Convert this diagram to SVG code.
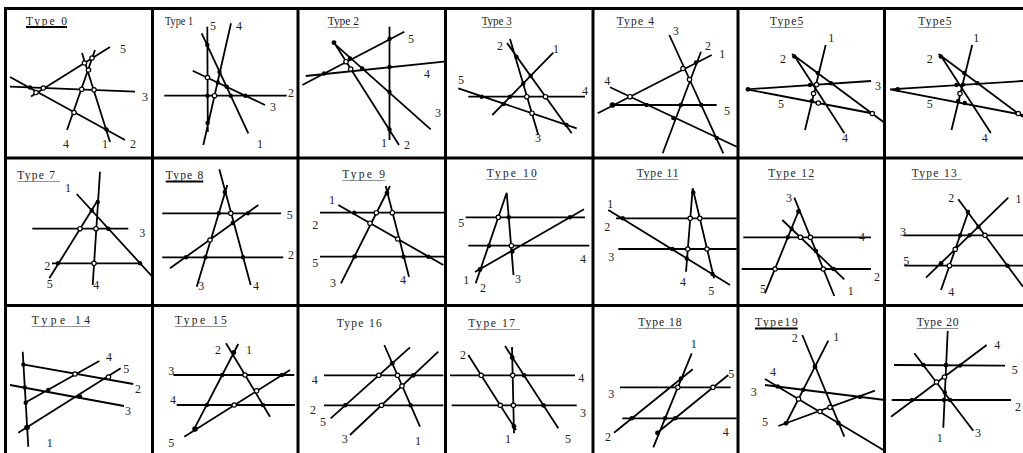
<svg xmlns="http://www.w3.org/2000/svg" width="1023" height="453" viewBox="0 0 1023 453">
<style>
.b{stroke:#000;stroke-width:3;fill:none}
.l{stroke:#000;stroke-width:1.8;fill:none}
.f{fill:#000}
.o{fill:#fff;stroke:#000;stroke-width:1.2}
.t{font-family:"Liberation Serif","Times New Roman",serif;font-size:11.5px;fill:#222}
.n{font-family:"Liberation Serif","Times New Roman",serif;font-size:12px;fill:#222}
.u{stroke:#000;stroke-width:2}
.v{stroke:#777;stroke-width:0.8}
</style>
<rect width="1023" height="453" fill="#fff"/>
<g id="grid">
<path class="b" d="M4,8.5H1023M4,158H1023M4,305.5H1023M5.5,7V453M152.5,7V453M298,7V453M445.5,7V453M593,7V453M738,7V453M884.5,7V453"/>
</g>

<g id="type0">
<text class="t" x="26" y="24.5" textLength="41" lengthAdjust="spacing">Type 0</text>
<line class="u" x1="26" y1="27" x2="67" y2="27"/>
<g class="connectors"><path class="l" d="M10,86.7L135,91.7M10,77L125,140M31,96.5L110,47M67,130L95,50M82,53L110,142"/></g>
<circle class="f" cx="30" cy="87.5" r="2.2"/><circle class="o" cx="43.3" cy="88" r="2.2"/><circle class="o" cx="36" cy="92.5" r="2.2"/><circle class="o" cx="84.5" cy="63" r="2.2"/><circle class="o" cx="92" cy="58" r="2.2"/><circle class="o" cx="88.5" cy="70" r="2.2"/><circle class="o" cx="81.7" cy="89.3" r="2.2"/><circle class="o" cx="94" cy="89.8" r="2.2"/><circle class="o" cx="74" cy="112.5" r="2.2"/><circle class="f" cx="106.5" cy="129.5" r="2.2"/>
<text class="n" x="120" y="53">5</text><text class="n" x="142" y="101">3</text><text class="n" x="63" y="148">4</text><text class="n" x="102" y="148">1</text><text class="n" x="130" y="148">2</text>
</g>

<g id="type1">
<text class="t" x="165" y="25" textLength="28" lengthAdjust="spacingAndGlyphs">Type 1</text>
<g class="connectors"><path class="l" d="M207.3,26.7L207.8,132M231,23.3L203.3,145M201.7,33.3L248.3,133.3M192.7,70.7L265,105M164.3,95.7L286.7,95.7"/></g>
<circle class="f" cx="207.3" cy="45" r="2.2"/><circle class="o" cx="207.5" cy="77.5" r="2.2"/><circle class="f" cx="219.5" cy="72" r="2.2"/><circle class="f" cx="217.8" cy="82.5" r="2.2"/><circle class="f" cx="226.7" cy="86.8" r="2.2"/><circle class="f" cx="207.5" cy="95.7" r="2.2"/><circle class="o" cx="214.5" cy="95.7" r="2.2"/><circle class="f" cx="230.8" cy="95.7" r="2.2"/><circle class="f" cx="245.3" cy="95.7" r="2.2"/><circle class="f" cx="207.6" cy="123" r="2.2"/>
<text class="n" x="210" y="30">5</text><text class="n" x="236" y="30">4</text><text class="n" x="257" y="148">1</text><text class="n" x="270" y="111">3</text><text class="n" x="288" y="97">2</text>
</g>

<g id="type2">
<text class="t" x="327.7" y="25" textLength="31.3" lengthAdjust="spacingAndGlyphs">Type 2</text>
<line class="v" x1="327.7" y1="27.5" x2="359" y2="27.5"/>
<g class="connectors"><path class="l" d="M389.5,26.7L389.5,140M335,44L399,145M334,43.3L430.7,129.3M302.3,85L404.3,31.7M305.7,76L444,61.7"/></g>
<circle class="f" cx="334" cy="42.7" r="2.4"/><circle class="o" cx="346" cy="61.7" r="2.2"/><circle class="f" cx="350" cy="58.5" r="2.2"/><circle class="f" cx="324" cy="73.5" r="2.2"/><circle class="o" cx="350.7" cy="69" r="2.2"/><circle class="f" cx="362.3" cy="68.5" r="2.2"/><circle class="f" cx="389.5" cy="39" r="2.2"/><circle class="f" cx="389.5" cy="67" r="2.2"/><circle class="f" cx="389.5" cy="92" r="2.2"/><circle class="f" cx="389.5" cy="129.5" r="2.2"/>
<text class="n" x="408" y="43">5</text><text class="n" x="424" y="78">4</text><text class="n" x="435" y="117">3</text><text class="n" x="381" y="146.7">1</text><text class="n" x="404" y="149">2</text>
</g>

<g id="type3">
<text class="t" x="481.7" y="25" textLength="30" lengthAdjust="spacingAndGlyphs">Type 3</text>
<line class="v" x1="481.7" y1="27.5" x2="511.7" y2="27.5"/>
<g class="connectors"><path class="l" d="M468.3,96.7L585,96.7M458.3,88.3L576.7,128.3M553.3,52.7L492.3,115M507,43L571.7,133.3M510,39L538.3,135"/></g>
<circle class="f" cx="481.7" cy="96.7" r="2.2"/><circle class="f" cx="510" cy="96.7" r="2.2"/><circle class="o" cx="526.8" cy="96.7" r="2.2"/><circle class="o" cx="545.5" cy="96.7" r="2.2"/><circle class="f" cx="516.5" cy="57" r="2.2"/><circle class="f" cx="530.7" cy="76" r="2.2"/><circle class="f" cx="523.3" cy="83.5" r="2.2"/><circle class="o" cx="532" cy="113.2" r="2.2"/><circle class="f" cx="503.5" cy="104" r="2.2"/><circle class="f" cx="566.5" cy="125" r="2.2"/>
<text class="n" x="497" y="49.7">2</text><text class="n" x="458" y="84">5</text><text class="n" x="553" y="53">1</text><text class="n" x="582" y="95">4</text><text class="n" x="535" y="141.7">3</text>
</g>

<g id="type4">
<text class="t" x="616.7" y="25" textLength="37.3" lengthAdjust="spacing">Type 4</text>
<line class="v" x1="616.7" y1="27.5" x2="654" y2="27.5"/>
<g class="connectors"><path class="l" d="M669.3,35L723.3,153.3M701,51.7L662.7,153.3M597.7,113.3L711.7,55M610,87.3L736.7,146.7M611.7,105L716.7,105"/></g>
<circle class="o" cx="683" cy="68.5" r="2.2"/><circle class="f" cx="696" cy="62.5" r="2.2"/><circle class="o" cx="689.5" cy="79.5" r="2.2"/><circle class="o" cx="630" cy="96.7" r="2.2"/><circle class="f" cx="612.5" cy="105" r="2.8"/><circle class="f" cx="646.7" cy="105" r="2.2"/><circle class="f" cx="680.8" cy="105" r="2.2"/><circle class="f" cx="701.3" cy="105" r="2.2"/><circle class="f" cx="673.3" cy="118" r="2.2"/><circle class="f" cx="716.7" cy="138" r="2.2"/>
<text class="n" x="672.7" y="35">3</text><text class="n" x="705" y="50">2</text><text class="n" x="719.3" y="58">1</text><text class="n" x="604.3" y="85">4</text><text class="n" x="724" y="115">5</text>
</g>

<g id="type5a">
<text class="t" x="770" y="25" textLength="33.3" lengthAdjust="spacing">Type5</text>
<line class="v" x1="770" y1="27.5" x2="803.3" y2="27.5"/>
<g class="connectors"><path class="l" d="M825.7,45L805,130M792,54L883.5,122M794.5,56L844.3,133M746.7,89.3L871,81M746.7,89.3L873,113.5"/></g>
<circle class="f" cx="748" cy="89.3" r="2.4"/><circle class="f" cx="794.3" cy="56.5" r="2.2"/><circle class="f" cx="817.7" cy="73" r="2.2"/><circle class="f" cx="810" cy="85" r="2.2"/><circle class="o" cx="816.5" cy="84.6" r="2.2"/><circle class="f" cx="831" cy="83.3" r="2.2"/><circle class="o" cx="813.5" cy="93.5" r="2.2"/><circle class="f" cx="811.7" cy="101" r="2.2"/><circle class="o" cx="818.3" cy="103" r="2.2"/><circle class="o" cx="872.3" cy="113.5" r="2.2"/>
<text class="n" x="828.3" y="41.7">1</text><text class="n" x="780" y="63.3">2</text><text class="n" x="875" y="90">3</text><text class="n" x="778" y="108">5</text><text class="n" x="842" y="141.7">4</text>
</g>

<g id="type5b">
<text class="t" x="918.3" y="25" textLength="33.3" lengthAdjust="spacing">Type5</text>
<line class="v" x1="918.3" y1="27.5" x2="951.6" y2="27.5"/>
<g class="connectors"><path class="l" d="M972.2,45L951.5,130M938.5,54L1023,117M941,56L990.8,133M890,89.3L1023,81M890,89.3L1023,115"/></g>
<circle class="f" cx="897.7" cy="89.3" r="2.4"/><circle class="f" cx="940.8" cy="56.5" r="2.2"/><circle class="f" cx="964.2" cy="73" r="2.2"/><circle class="f" cx="956.5" cy="85" r="2.2"/><circle class="f" cx="963" cy="84.6" r="2.2"/><circle class="f" cx="977.5" cy="83.3" r="2.2"/><circle class="o" cx="960" cy="93.5" r="2.2"/><circle class="f" cx="958.2" cy="101" r="2.2"/><circle class="f" cx="964.8" cy="103" r="2.2"/><circle class="o" cx="1018.3" cy="113.5" r="2.2"/>
<text class="n" x="973.3" y="41.7">1</text><text class="n" x="926.7" y="63.3">2</text><text class="n" x="926.7" y="108">5</text><text class="n" x="981.7" y="141.7">4</text>
</g>

<g id="type7">
<text class="t" x="17.3" y="179" textLength="37.7" lengthAdjust="spacing">Type 7</text>
<line class="v" x1="17.3" y1="181.5" x2="60" y2="181.5"/>
<g class="connectors"><path class="l" d="M100,171.7L92.7,285M76.7,194L151.7,276M32.3,228.7L128.3,228.7M52,263.3L142,263.3M49.3,278.3L98,200"/></g>
<circle class="f" cx="97.8" cy="202" r="2.2"/><circle class="f" cx="91.7" cy="210.5" r="2.2"/><circle class="o" cx="80" cy="228.7" r="2.2"/><circle class="o" cx="96" cy="228.7" r="2.2"/><circle class="f" cx="108.3" cy="228.7" r="2.2"/><circle class="f" cx="58" cy="263.3" r="2.2"/><circle class="o" cx="94" cy="263.3" r="2.2"/><circle class="f" cx="140" cy="263.3" r="2.2"/>
<text class="n" x="65" y="191.7">1</text><text class="n" x="139.3" y="236.7">3</text><text class="n" x="44.3" y="270">2</text><text class="n" x="46.7" y="288">5</text><text class="n" x="93.3" y="289">4</text>
</g>

<g id="type8">
<text class="t" x="165.7" y="179" textLength="37.6" lengthAdjust="spacing">Type 8</text>
<line class="u" x1="165.7" y1="181.5" x2="203.3" y2="181.5"/>
<g class="connectors"><path class="l" d="M162.3,213.3L281,213.3M162.3,257.3L283.3,257.3M196.7,286.7L227.3,185M219.3,169.3L250.7,285M170,268.3L258.3,205"/></g>
<circle class="f" cx="224.8" cy="192" r="2.2"/><circle class="f" cx="218.8" cy="213.3" r="2.2"/><circle class="o" cx="230.8" cy="213.3" r="2.2"/><circle class="f" cx="248" cy="213.3" r="2.2"/><circle class="f" cx="232.7" cy="223" r="2.2"/><circle class="o" cx="210" cy="240" r="2.2"/><circle class="f" cx="186" cy="257.3" r="2.2"/><circle class="f" cx="205.5" cy="257.3" r="2.2"/><circle class="f" cx="243" cy="257.3" r="2.2"/>
<text class="n" x="198.3" y="290">3</text><text class="n" x="253" y="290">4</text><text class="n" x="286.7" y="219">5</text><text class="n" x="288" y="259">2</text>
</g>

<g id="type9">
<text class="t" x="342.3" y="178" textLength="42.7" lengthAdjust="spacing">Type 9</text>
<line class="v" x1="342.3" y1="180.5" x2="385" y2="180.5"/>
<g class="connectors"><path class="l" d="M320,212.7L444,212.7M320,256.7L444,256.7M338.3,205L443.3,265M341,283.3L390,186M385.7,186L409,276.7"/></g>
<circle class="f" cx="387" cy="193" r="2.4"/><circle class="f" cx="354.3" cy="212.7" r="2.2"/><circle class="o" cx="376.3" cy="212.7" r="2.2"/><circle class="o" cx="392.3" cy="212.7" r="2.2"/><circle class="o" cx="370" cy="223.2" r="2.2"/><circle class="o" cx="397.7" cy="239" r="2.2"/><circle class="f" cx="354.5" cy="256.7" r="2.4"/><circle class="f" cx="403.5" cy="256.7" r="2.2"/><circle class="f" cx="428.5" cy="256.7" r="2.2"/>
<text class="n" x="329" y="204">1</text><text class="n" x="312.3" y="229">2</text><text class="n" x="312.3" y="267">5</text><text class="n" x="330" y="286.7">3</text><text class="n" x="400" y="284">4</text>
</g>

<g id="type10">
<text class="t" x="486.7" y="177" textLength="50" lengthAdjust="spacing">Type 10</text>
<line class="v" x1="486.7" y1="179.5" x2="536.7" y2="179.5"/>
<g class="connectors"><path class="l" d="M465.7,217.3L585,217.3M468.3,245.7L589.3,245.7M506.7,192.7L475.7,283.3M506.7,192.7L513.5,275M475,272L584,209.3"/></g>
<circle class="o" cx="498.3" cy="217.3" r="2.2"/><circle class="f" cx="508.7" cy="217.3" r="2.2"/><circle class="f" cx="489" cy="245.7" r="2.2"/><circle class="f" cx="480" cy="269.5" r="2.4"/><circle class="o" cx="511.4" cy="245.7" r="2.2"/><circle class="f" cx="512.2" cy="251.5" r="2.4"/><circle class="f" cx="570" cy="217.3" r="2.2"/>
<text class="n" x="458.3" y="227">5</text><text class="n" x="463.3" y="284">1</text><text class="n" x="480" y="292">2</text><text class="n" x="515" y="283">3</text><text class="n" x="580" y="263">4</text>
</g>

<g id="type11">
<text class="t" x="636.7" y="177" textLength="41.7" lengthAdjust="spacing">Type 11</text>
<line class="v" x1="636.7" y1="179.5" x2="678.4" y2="179.5"/>
<g class="connectors"><path class="l" d="M616,218.3L736.7,218.3M618.3,249L736.7,249M608.3,210L730,285M686,271.7L692.7,188.3M692.7,188.3L714,278.3"/></g>
<circle class="f" cx="693.3" cy="192.5" r="2.2"/><circle class="o" cx="690.2" cy="218.3" r="2.2"/><circle class="o" cx="699.8" cy="218.3" r="2.2"/><circle class="f" cx="622.7" cy="218.3" r="2.2"/><circle class="f" cx="672.3" cy="249" r="2.2"/><circle class="o" cx="687.8" cy="249" r="2.2"/><circle class="o" cx="707" cy="249" r="2.2"/><circle class="f" cx="686.8" cy="258.5" r="2.2"/><circle class="f" cx="712.5" cy="274" r="2.2"/>
<text class="n" x="607.3" y="208">1</text><text class="n" x="604.3" y="231">2</text><text class="n" x="608.3" y="261">3</text><text class="n" x="680" y="286">4</text><text class="n" x="708.3" y="295">5</text>
</g>

<g id="type12">
<text class="t" x="768.3" y="177" textLength="46" lengthAdjust="spacing">Type 12</text>
<line class="v" x1="768.3" y1="179.5" x2="814.3" y2="179.5"/>
<g class="connectors"><path class="l" d="M743.3,237.3L871,237.3M741.7,269L871,269M794.3,197.7L834.3,296M765,293.3L799,210M782.3,220L844.3,279.3"/></g>
<circle class="f" cx="798.5" cy="211.5" r="2.4"/><circle class="f" cx="791.7" cy="229" r="2.2"/><circle class="f" cx="787.8" cy="237.3" r="2.2"/><circle class="o" cx="800.4" cy="237.3" r="2.2"/><circle class="o" cx="810.4" cy="237.3" r="2.2"/><circle class="f" cx="816" cy="251" r="2.2"/><circle class="o" cx="775" cy="269" r="2.2"/><circle class="o" cx="823.3" cy="269" r="2.2"/><circle class="f" cx="833.6" cy="269" r="2.2"/>
<text class="n" x="786" y="202">3</text><text class="n" x="859" y="241">4</text><text class="n" x="874" y="281">2</text><text class="n" x="847.7" y="295">1</text><text class="n" x="760" y="293">5</text>
</g>

<g id="type13">
<text class="t" x="911.7" y="177" textLength="45" lengthAdjust="spacing">Type 13</text>
<line class="v" x1="911.7" y1="179.5" x2="961.7" y2="179.5"/>
<g class="connectors"><path class="l" d="M903.3,235.3L1023,235.3M904.3,265.7L1023,265.7M958.3,199.3L1023,286.7M1008.3,197.7L926,277.7M941,290L969,210"/></g>
<circle class="f" cx="967.8" cy="212" r="2.2"/><circle class="f" cx="978.5" cy="226.8" r="2.2"/><circle class="f" cx="960.1" cy="235.3" r="2.2"/><circle class="f" cx="969.6" cy="235.3" r="2.2"/><circle class="o" cx="985" cy="235.3" r="2.2"/><circle class="o" cx="955.2" cy="249.3" r="2.2"/><circle class="f" cx="941" cy="263.5" r="2.4"/><circle class="o" cx="949.5" cy="265.7" r="2.2"/><circle class="f" cx="1007.5" cy="265.7" r="2.2"/>
<text class="n" x="948.3" y="201.7">2</text><text class="n" x="1015.5" y="203">1</text><text class="n" x="900" y="236">3</text><text class="n" x="903.3" y="265">5</text><text class="n" x="948.3" y="296">4</text>
</g>

<g id="type14">
<text class="t" x="31.7" y="324" textLength="58.3" lengthAdjust="spacing">Type 14</text>
<line class="v" x1="31.7" y1="326.5" x2="90" y2="326.5"/>
<g class="connectors"><path class="l" d="M22.7,351.7L28.3,446.7M22.7,364.3L133.3,384M10,385L124,406M25,402.7L99.3,361M18.3,432.7L120.7,368.3"/></g>
<circle class="f" cx="23.4" cy="364.5" r="2.2"/><circle class="f" cx="24.8" cy="387.5" r="2.2"/><circle class="f" cx="25.7" cy="402.7" r="2.2"/><circle class="f" cx="27" cy="427.5" r="2.8"/><circle class="f" cx="48.3" cy="390" r="2.2"/><circle class="o" cx="75" cy="374" r="2.2"/><circle class="f" cx="80" cy="396.5" r="2.2"/><circle class="o" cx="108.5" cy="377" r="2.2"/>
<text class="n" x="106" y="361">4</text><text class="n" x="123.3" y="372.7">5</text><text class="n" x="135" y="393">2</text><text class="n" x="125" y="415">3</text><text class="n" x="46.7" y="446.7">1</text>
</g>

<g id="type15">
<text class="t" x="175" y="324" textLength="51.7" lengthAdjust="spacing">Type 15</text>
<line class="v" x1="175" y1="326.5" x2="226.7" y2="326.5"/>
<g class="connectors"><path class="l" d="M173.3,375L294.3,375M176.7,405L295,405M226,343.3L270,416.7M238.3,344L194,429.3M184.3,436.7L290,370"/></g>
<circle class="f" cx="233.8" cy="352.5" r="2.4"/><circle class="f" cx="222.2" cy="375" r="2.2"/><circle class="o" cx="245" cy="375" r="2.2"/><circle class="f" cx="207" cy="405" r="2.2"/><circle class="o" cx="234.2" cy="405" r="2.2"/><circle class="f" cx="195" cy="429" r="2.8"/><circle class="o" cx="256.6" cy="390.8" r="2.2"/><circle class="f" cx="262.8" cy="405" r="2.2"/><circle class="f" cx="282" cy="375" r="2.2"/>
<text class="n" x="215" y="354">2</text><text class="n" x="246" y="354">1</text><text class="n" x="168.3" y="375">3</text><text class="n" x="170" y="404">4</text><text class="n" x="168.3" y="446.7">5</text>
</g>

<g id="type16">
<text class="t" x="336.7" y="327" textLength="45" lengthAdjust="spacing">Type 16</text>
<g class="connectors"><path class="l" d="M324,375.3L443.3,375.3M324,405.3L443.3,405.3M330.7,418.3L410,347.3M350,435L438.3,351.7M384.3,345L420,426.7"/></g>
<circle class="f" cx="392.3" cy="363.3" r="2.4"/><circle class="o" cx="378.8" cy="375.3" r="2.2"/><circle class="o" cx="397.5" cy="375.3" r="2.2"/><circle class="f" cx="413.3" cy="375.3" r="2.4"/><circle class="o" cx="402" cy="386" r="2.2"/><circle class="f" cx="345.2" cy="405.3" r="2.2"/><circle class="o" cx="381.5" cy="405.3" r="2.2"/><circle class="f" cx="410.6" cy="405.3" r="2.2"/>
<text class="n" x="311.7" y="384">4</text><text class="n" x="310" y="414">2</text><text class="n" x="320" y="426">5</text><text class="n" x="341.7" y="443">3</text><text class="n" x="415" y="445">1</text>
</g>

<g id="type17">
<text class="t" x="468.3" y="327" textLength="46.7" lengthAdjust="spacing">Type 17</text>
<line class="v" x1="468.3" y1="329.5" x2="520" y2="329.5"/>
<g class="connectors"><path class="l" d="M450,375.3L575,375.3M451.7,405.3L576.7,405.3M468.3,355L516,430M512,347L514,433.3M505,346L558.3,428.3"/></g>
<circle class="o" cx="481.2" cy="375.3" r="2.2"/><circle class="o" cx="500.3" cy="405.3" r="2.2"/><circle class="f" cx="512.2" cy="357.5" r="2.4"/><circle class="o" cx="512.7" cy="375.3" r="2.2"/><circle class="f" cx="524" cy="375.3" r="2.4"/><circle class="o" cx="513.4" cy="405.3" r="2.2"/><circle class="f" cx="543.4" cy="405.3" r="2.4"/><circle class="f" cx="514" cy="426.5" r="2.4"/>
<text class="n" x="460" y="359">2</text><text class="n" x="578.3" y="382">4</text><text class="n" x="580" y="417">3</text><text class="n" x="565" y="443">5</text><text class="n" x="505" y="443">1</text>
</g>

<g id="type18">
<text class="t" x="638.3" y="326" textLength="43.3" lengthAdjust="spacing">Type 18</text>
<line class="v" x1="638.3" y1="328.5" x2="681.6" y2="328.5"/>
<g class="connectors"><path class="l" d="M620,387.3L730.7,387.3M622.3,418.3L736.7,418.3M614,432.7L692.7,369.3M691.7,353.3L653.3,447.3M656.7,433.3L728.3,375"/></g>
<circle class="f" cx="681" cy="378.5" r="2.2"/><circle class="o" cx="677.8" cy="387.3" r="2.2"/><circle class="o" cx="713" cy="387.3" r="2.2"/><circle class="f" cx="631.8" cy="418.3" r="2.2"/><circle class="f" cx="665" cy="418.3" r="2.2"/><circle class="f" cx="675.1" cy="418.3" r="2.2"/><circle class="f" cx="657.5" cy="433" r="2.4"/>
<text class="n" x="690.7" y="348">1</text><text class="n" x="728.3" y="378">5</text><text class="n" x="608.3" y="398">3</text><text class="n" x="722.7" y="436">4</text><text class="n" x="605" y="441">2</text>
</g>

<g id="type19">
<text class="t" x="755" y="326" textLength="42.7" lengthAdjust="spacing">Type19</text>
<line class="u" x1="755" y1="328.5" x2="797.7" y2="328.5"/>
<g class="connectors"><path class="l" d="M802.3,335L844.3,436.7M828.3,340.7L785.7,424M765,379L883.3,450M765,385L885,400M778.3,426L875,390.7"/></g>
<circle class="f" cx="815" cy="366.7" r="2.4"/><circle class="f" cx="777.7" cy="386.5" r="2.2"/><circle class="f" cx="803.3" cy="389.8" r="2.2"/><circle class="f" cx="860" cy="396.9" r="2.2"/><circle class="o" cx="798.5" cy="399" r="2.2"/><circle class="o" cx="820" cy="411.5" r="2.2"/><circle class="o" cx="830" cy="407.3" r="2.2"/><circle class="f" cx="786" cy="423.3" r="2.4"/><circle class="f" cx="838.3" cy="423" r="2.4"/>
<text class="n" x="791.7" y="342">2</text><text class="n" x="833.3" y="341">1</text><text class="n" x="770" y="376">4</text><text class="n" x="750.7" y="396">3</text><text class="n" x="762" y="426">5</text>
</g>

<g id="type20">
<text class="t" x="916.7" y="326" textLength="41.7" lengthAdjust="spacing">Type 20</text>
<line class="v" x1="916.7" y1="328.5" x2="958.4" y2="328.5"/>
<g class="connectors"><path class="l" d="M894,365L1005,365.7M891.7,400L1011,400M947.7,331L943.3,427.7M914.3,353.3L973.3,430.7M891,416.7L986.7,345"/></g>
<circle class="f" cx="923.5" cy="365" r="2.2"/><circle class="f" cx="946" cy="365.2" r="2.4"/><circle class="f" cx="960" cy="365.6" r="2.2"/><circle class="o" cx="944.5" cy="377" r="2.2"/><circle class="o" cx="936.5" cy="382" r="2.2"/><circle class="f" cx="944.8" cy="392.5" r="2.2"/><circle class="f" cx="912" cy="400" r="2.2"/><circle class="f" cx="944" cy="400" r="2.2"/><circle class="f" cx="950" cy="400" r="2.2"/>
<text class="n" x="994.3" y="349">4</text><text class="n" x="1011.7" y="374">5</text><text class="n" x="1015" y="411">2</text><text class="n" x="936.7" y="442">1</text><text class="n" x="975" y="437">3</text>
</g>
</svg>
